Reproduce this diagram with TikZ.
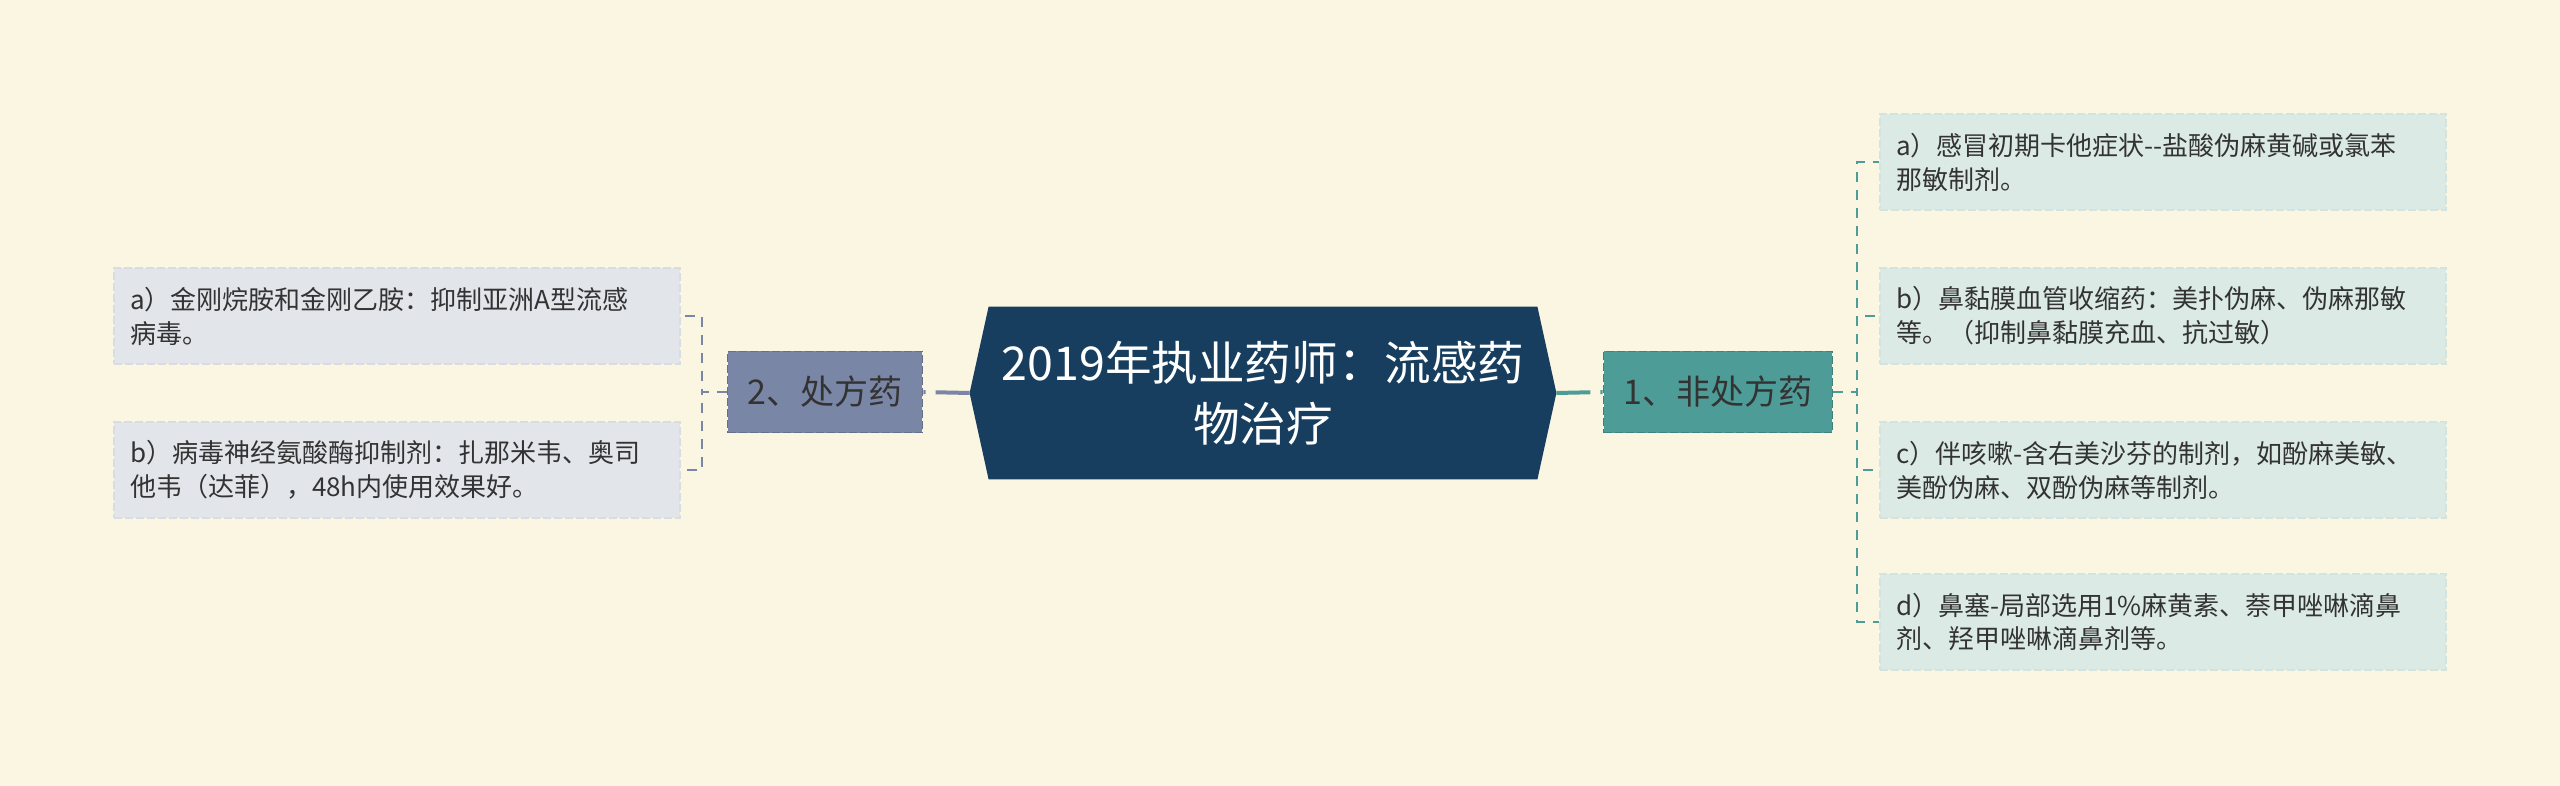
\documentclass[tikz,border=0pt]{standalone}
\usepackage{fontspec}
\setmainfont{Noto Sans CJK SC}
\usetikzlibrary{calc}

\definecolor{bgcream}{HTML}{FBF6E1}
\definecolor{topicblue}{HTML}{173E5E}
\definecolor{otcteal}{HTML}{4E9C97}
\definecolor{otctealdark}{HTML}{3D827D}
\definecolor{rxslate}{HTML}{7A86A6}
\definecolor{rxslatedark}{HTML}{65708D}
\definecolor{otcleaf}{HTML}{DCEAE6}
\definecolor{otcleafline}{HTML}{D3E3DF}
\definecolor{rxleaf}{HTML}{E2E5EA}
\definecolor{rxleafline}{HTML}{D9DDE3}
\definecolor{txtgray}{HTML}{333333}

\pgfdeclarelayer{paper}
\pgfdeclarelayer{shapes}
\pgfsetlayers{paper,shapes,main}

\tikzset{
  topic/.style={rectangle, minimum width=293pt, minimum height=86pt, inner sep=0pt,
    align=center, text=white, font=\fontsize{23.3}{30.5}\selectfont},
  branch/.style={rectangle, inner xsep=10pt, inner ysep=0pt, minimum height=40.5pt,
    text=txtgray, font=\fontsize{17}{20}\selectfont, line width=0.9pt, dash pattern=on 4pt off 1.5pt},
  leaf/.style={rectangle, text width=267pt, inner xsep=8pt, inner ysep=0pt, minimum height=48pt,
    align=left, text=txtgray, font=\fontsize{13}{17}\selectfont, line width=0.7pt, dash pattern=on 4pt off 1.5pt},
  thickline/.style={line width=2pt, dash pattern=on 17pt off 5pt},
  thinline/.style={line width=1pt, dash pattern=on 5pt off 4pt},
}

\begin{document}
\begin{tikzpicture}[x=0.5pt, y=-0.5pt]
    \begin{pgfonlayer}{paper}
      \fill[bgcream] (0,0) rectangle (2560,786);
    \end{pgfonlayer}
    \useasboundingbox (0,0) rectangle (2560,786);

    \node[topic] (T) at (1263,393) {2019年执业药师：流感药\\物治疗};
    \begin{pgfonlayer}{shapes}
      \fill[topicblue] (T.west) -- ($(T.north west)+(19,0)$) -- ($(T.north east)+(-19,0)$)
        -- (T.east) -- ($(T.south east)+(-19,0)$) -- ($(T.south west)+(19,0)$) -- cycle;
    \end{pgfonlayer}

    \node[branch, fill=otcteal, draw=otctealdark] (N1) at (1718,392) {1、非处方药};
    \node[branch, fill=rxslate, draw=rxslatedark] (N2) at (825,392) {2、处方药};

    \node[leaf, fill=otcleaf, draw=otcleafline] (O1) at (2163,162) {a）感冒初期卡他症状-{}-盐酸伪麻黄碱或氯苯\\那敏制剂。};
    \node[leaf, fill=otcleaf, draw=otcleafline] (O2) at (2163,316) {b）鼻黏膜血管收缩药：美扑伪麻、伪麻那敏\\等。（抑制鼻黏膜充血、抗过敏）};
    \node[leaf, fill=otcleaf, draw=otcleafline] (O3) at (2163,470) {c）伴咳嗽-含右美沙芬的制剂，如酚麻美敏、\\美酚伪麻、双酚伪麻等制剂。};
    \node[leaf, fill=otcleaf, draw=otcleafline] (O4) at (2163,622) {d）鼻塞-局部选用1\%麻黄素、萘甲唑啉滴鼻\\剂、羟甲唑啉滴鼻剂等。};

    \node[leaf, fill=rxleaf, draw=rxleafline] (R1) at (397,316) {a）金刚烷胺和金刚乙胺：抑制亚洲A型流感\\病毒。};
    \node[leaf, fill=rxleaf, draw=rxleafline] (R2) at (397,470) {b）病毒神经氨酸酶抑制剂：扎那米韦、奥司\\他韦（达菲），48h内使用效果好。};

    \draw[thickline, otcteal] (T.east) -- (N1.west);
    \draw[thickline, rxslate] (T.west) -- (N2.east);

    \foreach \leaf in {O1,O2,O3,O4}
      \draw[thinline, otcteal] (N1.east) -- ++(24,0) |- (\leaf.west);
    \foreach \leaf in {R1,R2}
      \draw[thinline, rxslate] (N2.west) -- ++(-25,0) |- (\leaf.east);

  \end{tikzpicture}
\end{document}
